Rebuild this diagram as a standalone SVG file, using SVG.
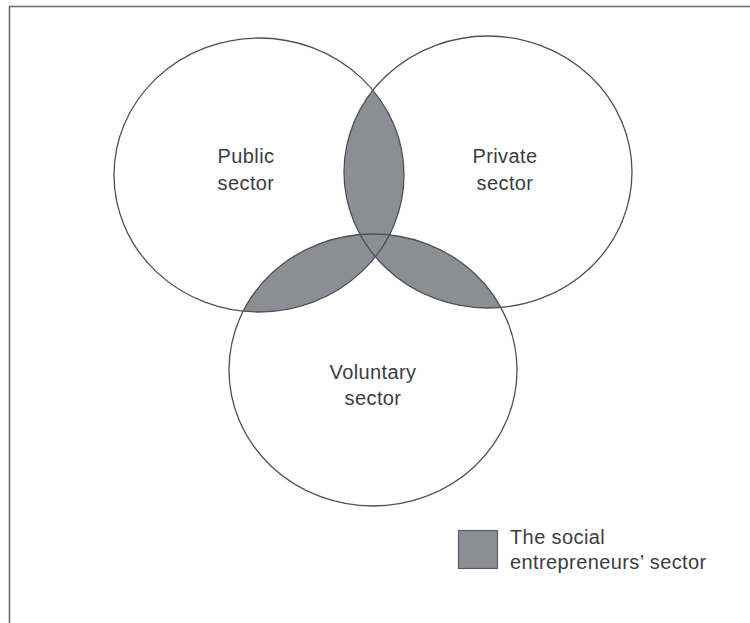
<svg xmlns="http://www.w3.org/2000/svg" width="750" height="623" viewBox="0 0 750 623">
<style>
.frame{fill:none;stroke:#6e6e72;stroke-width:1.6}
.ring{fill:none;stroke:#505055;stroke-width:1.3}
.shade{fill:#8b8e94;stroke:none}
.lbl{font-family:"Liberation Sans",Arial,sans-serif;font-size:20px;letter-spacing:0.4px;fill:#3c3c40;text-anchor:middle}
.leg{font-family:"Liberation Sans",Arial,sans-serif;font-size:20px;letter-spacing:0.4px;fill:#3c3c40}
</style>
<defs>
<clipPath id="cA"><ellipse cx="259" cy="175" rx="145" ry="137"/></clipPath>
<clipPath id="cB"><ellipse cx="488" cy="172" rx="144" ry="136"/></clipPath>
</defs>
<rect id="frame" class="frame" x="9.5" y="6.5" width="800" height="700"/>
<g id="overlaps">
<ellipse class="shade" cx="488" cy="172" rx="144" ry="136" clip-path="url(#cA)"/>
<ellipse class="shade" cx="373" cy="370" rx="144" ry="136" clip-path="url(#cA)"/>
<ellipse class="shade" cx="373" cy="370" rx="144" ry="136" clip-path="url(#cB)"/>
</g>
<g id="public">
<ellipse class="ring" cx="259" cy="175" rx="145" ry="137"/>
<text class="lbl" x="246" y="163">Public</text>
<text class="lbl" x="246" y="190">sector</text>
</g>
<g id="private">
<ellipse class="ring" cx="488" cy="172" rx="144" ry="136"/>
<text class="lbl" x="505" y="163">Private</text>
<text class="lbl" x="505" y="190">sector</text>
</g>
<g id="voluntary">
<ellipse class="ring" cx="373" cy="370" rx="144" ry="136"/>
<text class="lbl" x="373" y="379">Voluntary</text>
<text class="lbl" x="373" y="405">sector</text>
</g>
<g id="legend">
<rect x="458.5" y="530.5" width="39" height="38" fill="#8b8e94" stroke="#5a5c62" stroke-width="1.2"/>
<text class="leg" x="510" y="544">The social</text>
<text class="leg" x="510" y="569">entrepreneurs’ sector</text>
</g>
</svg>
